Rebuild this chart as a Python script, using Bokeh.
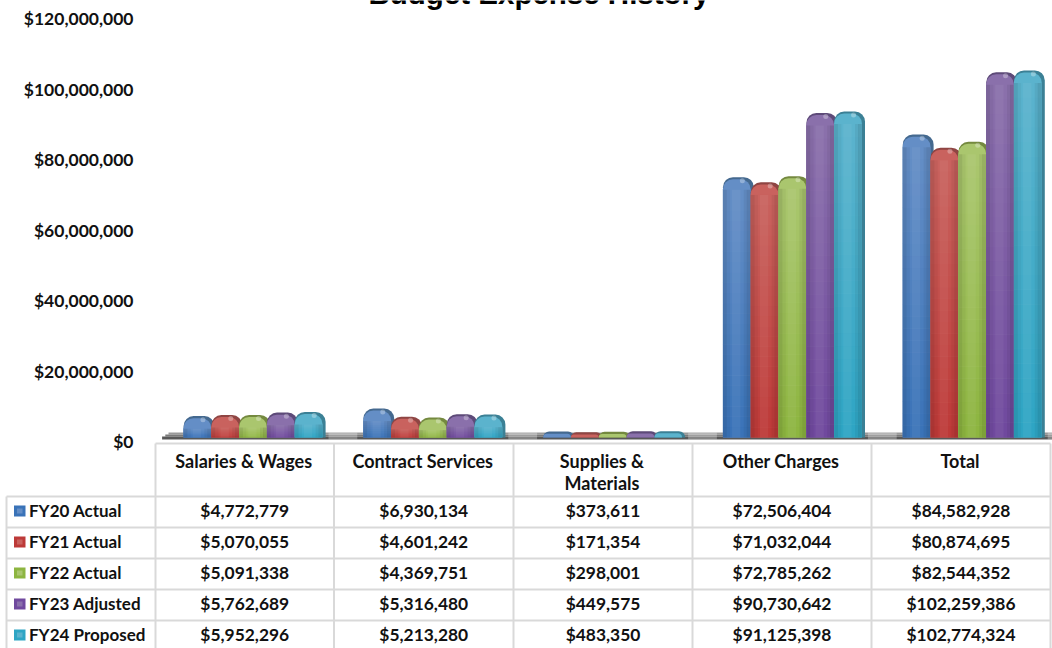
from bokeh.plotting import figure
from bokeh.models import Range1d, LinearAxis, FixedTicker, NumeralTickFormatter
from bokeh.core.properties import value
from bokeh.embed import file_html
from bokeh.resources import INLINE
import numpy as np

title = "Budget Expense History"
categories = ["Salaries & Wages", "Contract Services", "Supplies &\nMaterials", "Other Charges", "Total"]
series = ["FY20 Actual", "FY21 Actual", "FY22 Actual", "FY23 Adjusted", "FY24 Proposed"]
fy20 = [4772779, 6930134, 373611, 72506404, 84582928]
fy21 = [5070055, 4601242, 171354, 71032044, 80874695]
fy22 = [5091338, 4369751, 298001, 72785262, 82544352]
fy23 = [5762689, 5316480, 449575, 90730642, 102259386]
fy24 = [5952296, 5213280, 483350, 91125398, 102774324]
y_ticks = [0, 20000000, 40000000, 60000000, 80000000, 100000000, 120000000]
all_series = [fy20, fy21, fy22, fy23, fy24]

top_col = ["#648ec6", "#c9625e", "#aac66e", "#8a70ab", "#5bb3cd"]
bot_col = ["#3a73b8", "#bd3a38", "#8db540", "#70499e", "#2ea5c4"]
side_col = ["#44698f", "#8f4543", "#74893f", "#5d4a78", "#3b8095"]

W, H = 1052, 648
FONT = value("Lato")
p = figure(width=W, height=H, output_backend="svg", toolbar_location=None,
           x_axis_location=None, y_axis_location=None, min_border=0,
           outline_line_color=None, background_fill_color="white",
           x_range=Range1d(0, W),
           y_range=Range1d(-(H - 441) / 3.525e-6, 441 / 3.525e-6),
           margin=(0, 0, 0, 0))
p.xgrid.visible = False
p.ygrid.visible = False
BPX = 3.527e-6     # px per dollar for the bars
BASE = 437
p.extra_y_ranges = {"px": Range1d(H, 0),
                    "bars": Range1d(-(H - BASE) / BPX, BASE / BPX)}
CAT_W = 179.8
BAR = 27.8
C0 = 252.5
p.extra_x_ranges = {"bars": Range1d(-C0 / CAT_W, (W - C0) / CAT_W)}

ax = LinearAxis(fixed_location=139, ticker=FixedTicker(ticks=y_ticks),
                formatter=NumeralTickFormatter(format="$0,0"),
                axis_line_color=None, major_tick_line_color=None, minor_tick_line_color=None,
                major_label_standoff=0, major_label_text_font="Lato",
                major_label_text_font_style="bold", major_label_text_font_size="17.5px",
                major_label_text_color="#111111")
p.add_layout(ax, "left")

idx = np.arange(len(categories), dtype=float)

# floor of the chart
for y0, y1, col in [(432, 434, "#9a9a9a"), (434, 436, "#7a7a7a"), (436, 439, "#585858")]:
    xl = 168 - (y0 - 432) * 1.6
    p.quad(left=[xl], right=[1052], top=[y0], bottom=[y1], y_range_name="px", fill_color=col, line_color=None)
p.quad(left=idx + 0.42, right=idx + 0.58, top=[432] * 5, bottom=[439] * 5,
       x_range_name="bars", y_range_name="px", fill_color="#ffffff", fill_alpha=0.28, line_color=None)

# bars
w = BAR / CAT_W
dx = 1 / CAT_W
cap = 4.6 / BPX
shoulder = 8 / BPX
N = 24
R = 10


def mix(a, b, t):
    ca = [int(a[i:i + 2], 16) for i in (1, 3, 5)]
    cb = [int(b[i:i + 2], 16) for i in (1, 3, 5)]
    return "#%02x%02x%02x" % tuple(round(x + (y - x) * t) for x, y in zip(ca, cb))


for j, vals in enumerate(all_series):
    v = np.array(vals, dtype=float)
    x = idx + (j - 2) * BAR / CAT_W
    kw = dict(x_range_name="bars", y_range_name="bars", line_color=None)
    # side and rear rim
    p.vbar(x=x + 1.6 * dx, width=w + 3 * dx, bottom=0, top=v + cap,
           fill_color=side_col[j], border_radius=(R, R, 0, 0), **kw)
    # front face rounded top
    p.vbar(x=x, width=w, bottom=0, top=v + 2.5 / BPX,
           fill_color=top_col[j], border_radius=(R, R, 0, 0), **kw)
    body = np.maximum(v - shoulder, 0)
    for k in range(N):
        t = k / (N - 1)
        b0 = body * k / N
        b1 = body * (k + 1) / N + 0.2 / BPX * (body > 0)
        p.vbar(x=x, width=w, bottom=b0, top=b1, fill_color=mix(bot_col[j], top_col[j], t), **kw)
    # horizontal shading
    for off, wid, col, alpha in [(-0.43, 0.14, "#000000", 0.10), (-0.30, 0.12, "#000000", 0.04),
                                 (0.31, 0.12, "#000000", 0.05), (0.43, 0.14, "#000000", 0.11),
                                 (-0.02, 0.30, "#ffffff", 0.05)]:
        p.vbar(x=x + off * w, width=wid * w, bottom=0, top=body, fill_color=col, fill_alpha=alpha, **kw)
    # highlight
    big = v > 1e6
    p.scatter(x=(x + 0.2 * w)[big], y=(v + 1.0 / BPX)[big], size=5, marker="circle",
              fill_color="white", fill_alpha=0.3, line_color=None,
              x_range_name="bars", y_range_name="bars")

# table grid
GRID = "#d9d9d9"
col_x = [155, 333.5, 513, 692, 871, 1050]
row_y = [496, 527, 558, 589, 620]
p.segment(x0=col_x, x1=col_x, y0=[443] * 6, y1=[H] * 6, y_range_name="px", line_color=GRID, line_width=2)
p.segment(x0=[155], x1=[1050], y0=[443], y1=[443], y_range_name="px", line_color=GRID, line_width=2)
p.segment(x0=[6] * 5, x1=[1050] * 5, y0=row_y, y1=row_y, y_range_name="px", line_color=GRID, line_width=2)
p.segment(x0=[6], x1=[6], y0=[496], y1=[H], y_range_name="px", line_color=GRID, line_width=2)

# table text
txt = dict(y_range_name="px", text_font=FONT, text_font_style="bold",
           text_color="#111111", text_baseline="middle")
cx = [(a + b) / 2 for a, b in zip(col_x[:-1], col_x[1:])]
for c, name in zip(cx, categories):
    lines = name.split("\n")
    for n, line in enumerate(lines):
        p.text(x=[c - 1], y=[460 + n * 22], text=[line], text_align="center", text_font_size="18px", **txt)
for r, (name, vals) in enumerate(zip(series, all_series)):
    yc = row_y[r] + 14
    p.text(x=[28.5], y=[yc], text=[name], text_align="left", text_font_size="17px", **txt)
    p.text(x=cx, y=[yc] * 5, text=["$" + format(v, ",") for v in vals], text_align="center",
           text_font_size="17.4px", **txt)
    p.quad(left=[13.5], right=[25], top=[yc - 5], bottom=[yc + 6], y_range_name="px",
           fill_color=bot_col[r], line_color=None)
    p.quad(left=[16.5], right=[22], top=[yc - 2], bottom=[yc + 3], y_range_name="px",
           fill_color=top_col[r], line_color=None)

p.text(x=[538.5], y=[-7], text=[title], y_range_name="px", text_font=value("Liberation Sans"),
       text_font_style="bold", text_font_size="29.5px", text_color="#000000",
       text_align="center", text_baseline="alphabetic")

open("out.html", "w").write(file_html(p, INLINE))
